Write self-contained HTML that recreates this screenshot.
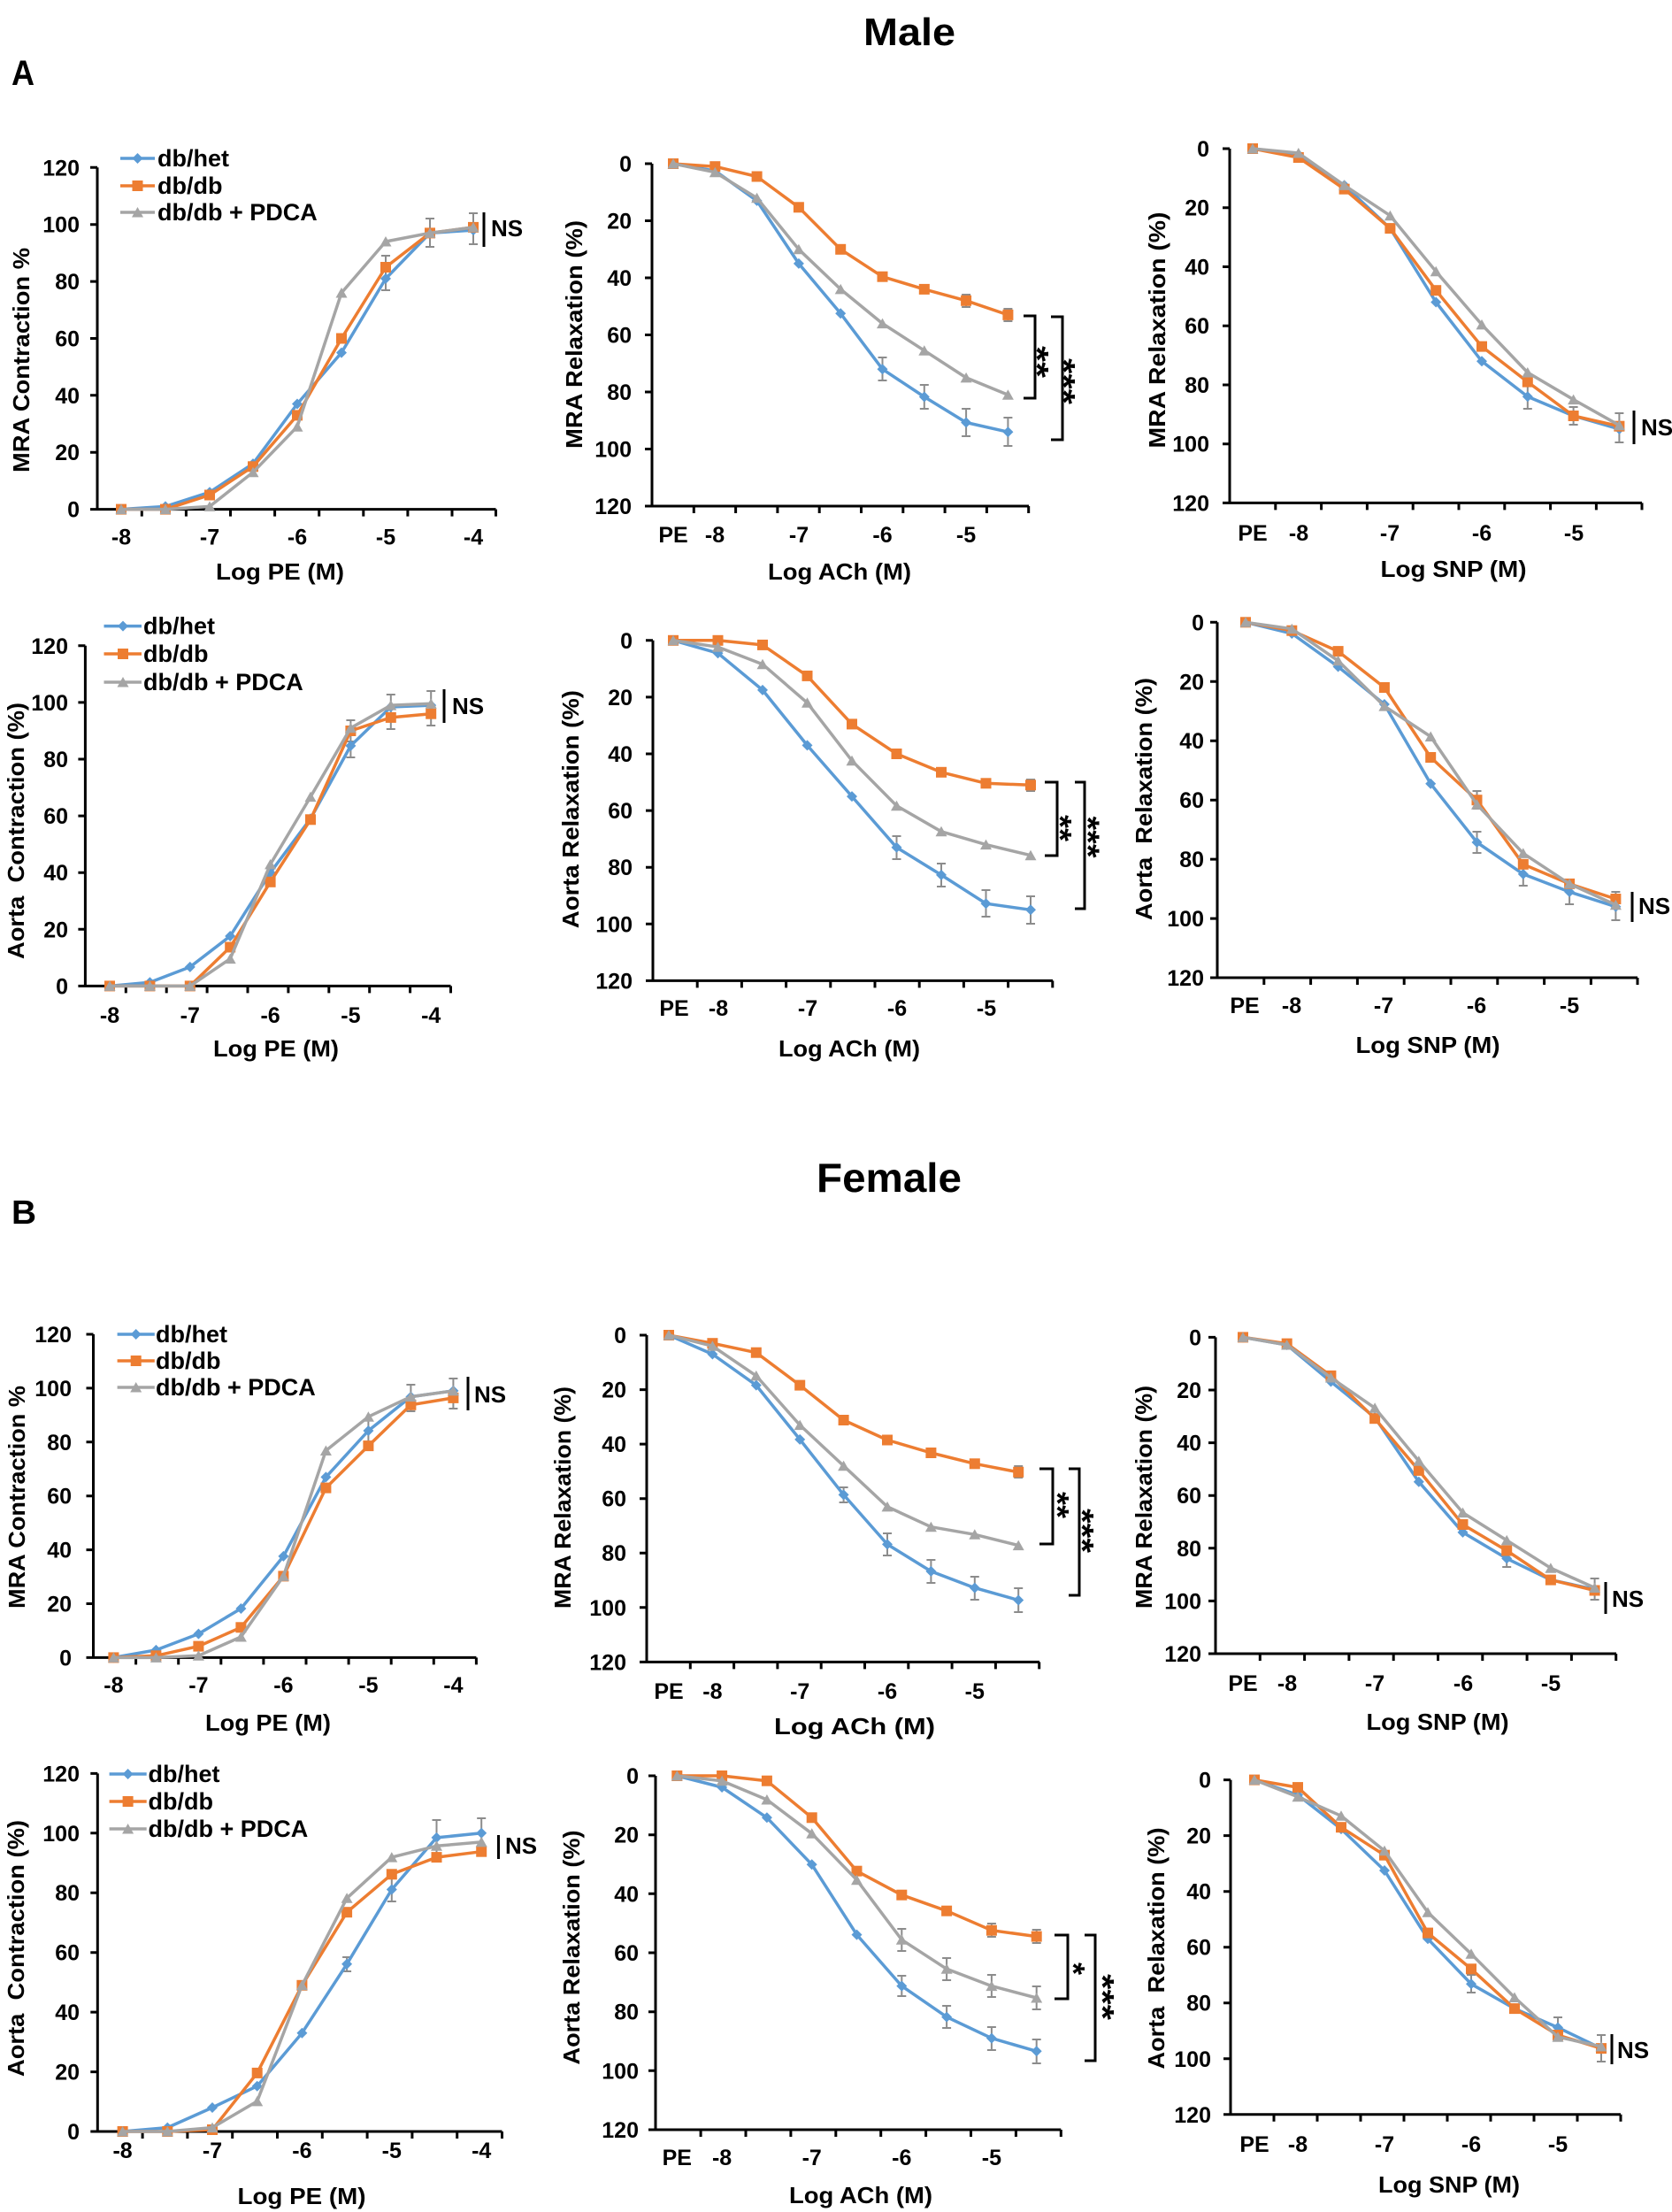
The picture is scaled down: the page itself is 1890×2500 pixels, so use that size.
<!DOCTYPE html>
<html>
<head>
<meta charset="utf-8">
<style>
html,body{margin:0;padding:0;background:#fff;}
svg{display:block;}
text{font-family:"Liberation Sans",Arial,sans-serif;font-weight:bold;fill:#000;}
.ax{stroke:#000;stroke-width:3;fill:none;}
.eb{stroke:#8c8c8c;stroke-width:2;fill:none;}
.sb{stroke:#5b9bd5;stroke-width:3.5;fill:none;stroke-linejoin:round;marker-start:url(#mb);marker-mid:url(#mb);marker-end:url(#mb);}
.so{stroke:#ed7d31;stroke-width:3.5;fill:none;stroke-linejoin:round;marker-start:url(#mo);marker-mid:url(#mo);marker-end:url(#mo);}
.sg{stroke:#a5a5a5;stroke-width:3.5;fill:none;stroke-linejoin:round;marker-start:url(#mg);marker-mid:url(#mg);marker-end:url(#mg);}
.lb{stroke:#5b9bd5;stroke-width:3.5;fill:none;marker-mid:url(#mb);}
.lo{stroke:#ed7d31;stroke-width:3.5;fill:none;marker-mid:url(#mo);}
.lg{stroke:#a5a5a5;stroke-width:3.5;fill:none;marker-mid:url(#mg);}
.tk{font-size:25px;}
.ye{text-anchor:end;}
.xm{text-anchor:middle;}
.tt{font-size:26px;text-anchor:middle;}
.leg{font-size:27px;}
.ns{font-size:26px;}
.st{font-size:36px;text-anchor:middle;}
</style>
</head>
<body>
<svg width="1890" height="2500" viewBox="0 0 1890 2500" xmlns="http://www.w3.org/2000/svg">
<defs>
<marker id="mb" markerUnits="userSpaceOnUse" markerWidth="14" markerHeight="14" refX="7" refY="7" overflow="visible"><path d="M7,1 L13,7 L7,13 L1,7Z" fill="#5b9bd5"/></marker>
<marker id="mo" markerUnits="userSpaceOnUse" markerWidth="14" markerHeight="14" refX="7" refY="7" overflow="visible"><rect x="1" y="1" width="12" height="12" fill="#ed7d31"/></marker>
<marker id="mg" markerUnits="userSpaceOnUse" markerWidth="14" markerHeight="14" refX="7" refY="7" overflow="visible"><path d="M7,1 L13.5,12.5 L0.5,12.5Z" fill="#a5a5a5"/></marker>
</defs>
<rect width="1890" height="2500" fill="#fff"/>

<!-- Titles -->
<text x="976" y="51" font-size="44" textLength="104" lengthAdjust="spacingAndGlyphs">Male</text>
<text x="923" y="1347" font-size="46" textLength="164" lengthAdjust="spacingAndGlyphs">Female</text>
<text x="13" y="96" font-size="40" textLength="26" lengthAdjust="spacingAndGlyphs">A</text>
<text x="13" y="1383" font-size="38" textLength="28" lengthAdjust="spacingAndGlyphs">B</text>

<!-- ================= A1 ================= -->
<path class="ax" d="M110,189.3V575.6 M103,575.6H560.5 M102,575.6H110 M102,511.2H110 M102,446.8H110 M102,382.5H110 M102,318.1H110 M102,253.7H110 M102,189.3H110 M160.3,575.6v8 M210.4,575.6v8 M260.5,575.6v8 M310.6,575.6v8 M360.7,575.6v8 M410.8,575.6v8 M460.9,575.6v8 M511,575.6v8 M560.5,575.6v8"/>
<text class="tk ye"><tspan x="90" y="584.6">0</tspan><tspan x="90" y="520.2">20</tspan><tspan x="90" y="455.8">40</tspan><tspan x="90" y="391.5">60</tspan><tspan x="90" y="327.1">80</tspan><tspan x="90" y="262.7">100</tspan><tspan x="90" y="198.3">120</tspan></text>
<text class="tk xm"><tspan x="137" y="615.5">-8</tspan><tspan x="237" y="615.5">-7</tspan><tspan x="336" y="615.5">-6</tspan><tspan x="436" y="615.5">-5</tspan><tspan x="535" y="615.5">-4</tspan></text>
<text class="tt" x="316.5" y="655" textLength="145" lengthAdjust="spacingAndGlyphs">Log PE (M)</text>
<text class="tt" transform="translate(33,407) rotate(-90)" textLength="254" lengthAdjust="spacingAndGlyphs">MRA Contraction %</text>
<path class="eb" d="M486,247V279M481,247h10M481,279h10 M535,241V276M530,241h10M530,276h10 M436,302V328M431,302h10M431,328h10 M436,289V315M431,289h10M431,315h10"/>
<polyline class="sb" points="137,575.6 187,572.4 237,556.3 286,524.1 336,456.5 386,398.6 436,314.9 486,263.4 535,260.1"/>
<polyline class="so" points="137,575.6 187,575.6 237,559.5 286,527.3 336,469.4 386,382.5 436,302 486,263.4 535,256.9"/>
<polyline class="sg" points="137,575.6 187,575.6 237,572.4 286,533.8 336,482.2 386,331 436,273 486,263.4 535,256.9"/>
<polyline class="lb" points="136,179 155.5,179 175,179"/>
<polyline class="lo" points="136,210 155.5,210 175,210"/>
<polyline class="lg" points="136,240 155.5,240 175,240"/>
<text class="leg"><tspan x="178" y="188">db/het</tspan><tspan x="178" y="219">db/db</tspan><tspan x="178" y="249">db/db + PDCA</tspan></text>
<path class="ax" d="M547,240V279"/>
<text class="ns" x="555" y="267">NS</text>

<!-- ================= A2 ================= -->
<path class="ax" d="M737,185V572 M729,185H737 M729,249.5H737 M729,314H737 M729,378.5H737 M729,443H737 M729,507.5H737 M729,572H737 M729,572H1163 M784.3,572v8 M831.6,572v8 M878.9,572v8 M926.2,572v8 M973.5,572v8 M1020.8,572v8 M1068.1,572v8 M1115.4,572v8 M1162.7,572v8"/>
<text class="tk ye"><tspan x="714" y="194">0</tspan><tspan x="714" y="258.5">20</tspan><tspan x="714" y="323">40</tspan><tspan x="714" y="387.5">60</tspan><tspan x="714" y="452">80</tspan><tspan x="714" y="516.5">100</tspan><tspan x="714" y="581">120</tspan></text>
<text class="tk xm"><tspan x="761" y="613">PE</tspan><tspan x="808" y="613">-8</tspan><tspan x="903" y="613">-7</tspan><tspan x="997.5" y="613">-6</tspan><tspan x="1092" y="613">-5</tspan></text>
<text class="tt" x="949" y="655" textLength="162" lengthAdjust="spacingAndGlyphs">Log ACh (M)</text>
<text class="tt" transform="translate(658,378) rotate(-90)" textLength="258" lengthAdjust="spacingAndGlyphs">MRA Relaxation (%)</text>
<path class="eb" d="M997.5,404V430M992.5,404h10M992.5,430h10 M1044.8,435V462M1039.8,435h10M1039.8,462h10 M1092.1,462V493M1087.1,462h10M1087.1,493h10 M1139.4,472V504M1134.4,472h10M1134.4,504h10 M1092.1,333V347M1087.1,333h10M1087.1,347h10 M1139.4,349V363M1134.4,349h10M1134.4,363h10"/>
<polyline class="sb" points="761,185 808.3,193.1 855.6,226.9 902.9,297.9 950.2,354.3 997.5,417.2 1044.8,448.5 1092.1,477.5 1139.4,488.2"/>
<polyline class="so" points="761,185 808.3,188.2 855.6,199.5 902.9,234.3 950.2,281.8 997.5,312.7 1044.8,326.9 1092.1,339.8 1139.4,355.9"/>
<polyline class="sg" points="761,185 808.3,194.7 855.6,223.7 902.9,281.8 950.2,326.9 997.5,365.6 1044.8,396.2 1092.1,426.9 1139.4,446.2"/>
<path class="ax" d="M1157,357H1170V450H1157 M1188,358H1201V497H1188"/>
<text class="st" transform="translate(1160,409) rotate(90)" textLength="36" lengthAdjust="spacingAndGlyphs">**</text>
<text class="st" transform="translate(1190,431) rotate(90)" textLength="52" lengthAdjust="spacingAndGlyphs">***</text>

<!-- ================= A3 ================= -->
<path class="ax" d="M1390,168V568.4 M1382,168H1390 M1382,234.7H1390 M1382,301.5H1390 M1382,368.2H1390 M1382,435H1390 M1382,501.7H1390 M1382,568.4H1856 M1441.8,568.4v8 M1493.6,568.4v8 M1545.4,568.4v8 M1597.2,568.4v8 M1649,568.4v8 M1700.8,568.4v8 M1752.6,568.4v8 M1804.4,568.4v8 M1856,568.4v8"/>
<text class="tk ye"><tspan x="1367" y="177">0</tspan><tspan x="1367" y="243.7">20</tspan><tspan x="1367" y="310.5">40</tspan><tspan x="1367" y="377.2">60</tspan><tspan x="1367" y="444">80</tspan><tspan x="1367" y="510.7">100</tspan><tspan x="1367" y="577.4">120</tspan></text>
<text class="tk xm"><tspan x="1416" y="611">PE</tspan><tspan x="1468" y="611">-8</tspan><tspan x="1571" y="611">-7</tspan><tspan x="1675" y="611">-6</tspan><tspan x="1779" y="611">-5</tspan></text>
<text class="tt" x="1643" y="652" textLength="165" lengthAdjust="spacingAndGlyphs">Log SNP (M)</text>
<text class="tt" transform="translate(1317,373) rotate(-90)" textLength="267" lengthAdjust="spacingAndGlyphs">MRA Relaxation (%)</text>
<path class="eb" d="M1726.8,435V462M1721.8,435h10M1721.8,462h10 M1778.6,460V480M1773.6,460h10M1773.6,480h10 M1830.4,467V500M1825.4,467h10M1825.4,500h10"/>
<polyline class="sb" points="1416,168 1467.8,174.7 1519.6,209.4 1571.4,258.1 1623.2,341.5 1675,408.3 1726.8,448.3 1778.6,470 1830.4,485"/>
<polyline class="so" points="1416,168 1467.8,178 1519.6,213.7 1571.4,258.1 1623.2,328.2 1675,391.6 1726.8,431.6 1778.6,470 1830.4,481.7"/>
<polyline class="sg" points="1416,168 1467.8,173 1519.6,209.4 1571.4,243.7 1623.2,306.8 1675,366.9 1726.8,421 1778.6,451.6 1830.4,480.7"/>
<path class="ax" d="M1847,464V502"/>
<text class="ns" x="1855" y="492" font-size="23">NS</text>

<!-- ================= A4 ================= -->
<path class="ax" d="M96.4,729.8V1114.4 M88.4,1114.4H96.4 M88.4,1050.3H96.4 M88.4,986.2H96.4 M88.4,922.1H96.4 M88.4,858H96.4 M88.4,793.9H96.4 M88.4,729.8H96.4 M89,1114.4H509.5 M142.3,1114.4v8 M188.2,1114.4v8 M234.1,1114.4v8 M280,1114.4v8 M325.9,1114.4v8 M371.8,1114.4v8 M417.7,1114.4v8 M463.6,1114.4v8 M509.5,1114.4v8"/>
<text class="tk ye"><tspan x="77" y="1123.4">0</tspan><tspan x="77" y="1059.3">20</tspan><tspan x="77" y="995.2">40</tspan><tspan x="77" y="931.1">60</tspan><tspan x="77" y="867">80</tspan><tspan x="77" y="802.9">100</tspan><tspan x="77" y="738.8">120</tspan></text>
<text class="tk xm"><tspan x="124" y="1156">-8</tspan><tspan x="214.8" y="1156">-7</tspan><tspan x="305.6" y="1156">-6</tspan><tspan x="396.4" y="1156">-5</tspan><tspan x="487.2" y="1156">-4</tspan></text>
<text class="tt" x="312" y="1194" textLength="142" lengthAdjust="spacingAndGlyphs">Log PE (M)</text>
<text class="tt" transform="translate(27,939) rotate(-90)" textLength="290" lengthAdjust="spacingAndGlyphs" xml:space="preserve">Aorta  Contraction (%)</text>
<path class="eb" d="M396.4,830V856M391.4,830h10M391.4,856h10 M396.4,814V838M391.4,814h10M391.4,838h10 M441.8,785V824M436.8,785h10M436.8,824h10 M487.2,781V820M482.2,781h10M482.2,820h10"/>
<polyline class="sb" points="124,1114.4 169.4,1110.2 214.8,1092.9 260.2,1058 305.6,986.2 351,925.3 396.4,842.9 441.8,799 487.2,797.1"/>
<polyline class="so" points="124,1114.4 169.4,1114.4 214.8,1114.4 260.2,1070.5 305.6,996.8 351,926.3 396.4,826 441.8,810.9 487.2,806.7"/>
<polyline class="sg" points="124,1114.4 169.4,1114.4 214.8,1114.4 260.2,1083.6 305.6,976.9 351,900.6 396.4,822.8 441.8,797.1 487.2,795.2"/>
<polyline class="lb" points="117.5,707.6 139,707.6 160,707.6"/>
<polyline class="lo" points="117.5,739 139,739 160,739"/>
<polyline class="lg" points="117.5,771 139,771 160,771"/>
<text class="leg"><tspan x="162" y="716.6">db/het</tspan><tspan x="162" y="748">db/db</tspan><tspan x="162" y="780">db/db + PDCA</tspan></text>
<path class="ax" d="M502,779V817"/>
<text class="ns" x="511" y="807">NS</text>

<!-- ================= A5 ================= -->
<path class="ax" d="M738,723.8V1108.4 M730,723.8H738 M730,787.9H738 M730,852H738 M730,916.1H738 M730,980.2H738 M730,1044.3H738 M730,1108.4H1190 M788.2,1108.4v8 M838.4,1108.4v8 M888.6,1108.4v8 M938.8,1108.4v8 M989,1108.4v8 M1039.2,1108.4v8 M1089.4,1108.4v8 M1139.6,1108.4v8 M1189.8,1108.4v8"/>
<text class="tk ye"><tspan x="715" y="732.8">0</tspan><tspan x="715" y="796.9">20</tspan><tspan x="715" y="861">40</tspan><tspan x="715" y="925.1">60</tspan><tspan x="715" y="989.2">80</tspan><tspan x="715" y="1053.3">100</tspan><tspan x="715" y="1117.4">120</tspan></text>
<text class="tk xm"><tspan x="762" y="1148">PE</tspan><tspan x="812" y="1148">-8</tspan><tspan x="913" y="1148">-7</tspan><tspan x="1014" y="1148">-6</tspan><tspan x="1115" y="1148">-5</tspan></text>
<text class="tt" x="960" y="1194" textLength="160" lengthAdjust="spacingAndGlyphs">Log ACh (M)</text>
<text class="tt" transform="translate(654,914.6) rotate(-90)" textLength="269" lengthAdjust="spacingAndGlyphs">Aorta Relaxation (%)</text>
<path class="eb" d="M1013.5,945V971M1008.5,945h10M1008.5,971h10 M1064,976V1002M1059,976h10M1059,1002h10 M1114.5,1006V1036M1109.5,1006h10M1109.5,1036h10 M1165,1013V1044M1160,1013h10M1160,1044h10 M1165,881V894M1160,881h10M1160,894h10"/>
<polyline class="sb" points="761,723.8 811.5,738.2 862,779.9 912.5,842.4 963,900.1 1013.5,957.8 1064,988.9 1114.5,1021.2 1165,1028.3"/>
<polyline class="so" points="761,723.8 811.5,723.8 862,728.9 912.5,763.9 963,818.4 1013.5,852 1064,872.8 1114.5,885.3 1165,887.3"/>
<polyline class="sg" points="761,723.8 811.5,731.2 862,750.7 912.5,794.3 963,859.7 1013.5,910.7 1064,939.8 1114.5,954.6 1165,966.7"/>
<path class="ax" d="M1181,884H1195V967H1181 M1215,884H1226V1027H1215"/>
<text class="st" transform="translate(1186,936) rotate(90)" textLength="30" lengthAdjust="spacingAndGlyphs">**</text>
<text class="st" transform="translate(1217.5,946) rotate(90)" textLength="47" lengthAdjust="spacingAndGlyphs">***</text>

<!-- ================= A6 ================= -->
<path class="ax" d="M1376,703.3V1105 M1368,703.3H1376 M1368,770.3H1376 M1368,837.2H1376 M1368,904.2H1376 M1368,971.1H1376 M1368,1038.1H1376 M1368,1105H1851 M1428.8,1105v8 M1481.6,1105v8 M1534.4,1105v8 M1587.2,1105v8 M1640,1105v8 M1692.8,1105v8 M1745.6,1105v8 M1798.4,1105v8 M1851,1105v8"/>
<text class="tk ye"><tspan x="1361" y="712.3">0</tspan><tspan x="1361" y="779.3">20</tspan><tspan x="1361" y="846.2">40</tspan><tspan x="1361" y="913.2">60</tspan><tspan x="1361" y="980.1">80</tspan><tspan x="1361" y="1047.1">100</tspan><tspan x="1361" y="1114">120</tspan></text>
<text class="tk xm"><tspan x="1407" y="1145">PE</tspan><tspan x="1460" y="1145">-8</tspan><tspan x="1564" y="1145">-7</tspan><tspan x="1669" y="1145">-6</tspan><tspan x="1774" y="1145">-5</tspan></text>
<text class="tt" x="1614" y="1190" textLength="163" lengthAdjust="spacingAndGlyphs">Log SNP (M)</text>
<text class="tt" transform="translate(1302,903) rotate(-90)" textLength="274" lengthAdjust="spacingAndGlyphs" xml:space="preserve">Aorta  Relaxation (%)</text>
<path class="eb" d="M1669.5,940V964M1664.5,940h10M1664.5,964h10 M1721.8,975V1001M1716.8,975h10M1716.8,1001h10 M1774.1,994V1022M1769.1,994h10M1769.1,1022h10 M1826.4,1008V1040M1821.4,1008h10M1821.4,1040h10 M1669.5,894V914M1664.5,894h10M1664.5,914h10"/>
<polyline class="sb" points="1408,703.3 1460.3,716 1512.6,753.5 1564.9,796 1617.2,885.8 1669.5,952 1721.8,987.9 1774.1,1008 1826.4,1024.7"/>
<polyline class="so" points="1408,703.3 1460.3,712.7 1512.6,736.1 1564.9,777 1617.2,856 1669.5,904.2 1721.8,976.8 1774.1,998.9 1826.4,1016"/>
<polyline class="sg" points="1408,703.3 1460.3,710.7 1512.6,746.8 1564.9,798.1 1617.2,832.5 1669.5,909.2 1721.8,964.4 1774.1,998.9 1826.4,1022.7"/>
<path class="ax" d="M1845,1008V1042"/>
<text class="ns" x="1852" y="1033" font-size="23">NS</text>

<!-- ================= B1 ================= -->
<path class="ax" d="M105.5,1508V1873.4 M97.5,1873.4H105.5 M97.5,1812.5H105.5 M97.5,1751.6H105.5 M97.5,1690.7H105.5 M97.5,1629.8H105.5 M97.5,1568.9H105.5 M97.5,1508H105.5 M98,1873.4H538.4 M153.6,1873.4v8 M201.7,1873.4v8 M249.8,1873.4v8 M297.9,1873.4v8 M346,1873.4v8 M394.1,1873.4v8 M442.2,1873.4v8 M490.3,1873.4v8 M538.4,1873.4v8"/>
<text class="tk ye"><tspan x="81" y="1882.4">0</tspan><tspan x="81" y="1821.5">20</tspan><tspan x="81" y="1760.6">40</tspan><tspan x="81" y="1699.7">60</tspan><tspan x="81" y="1638.8">80</tspan><tspan x="81" y="1577.9">100</tspan><tspan x="81" y="1517">120</tspan></text>
<text class="tk xm"><tspan x="128.4" y="1913">-8</tspan><tspan x="224.4" y="1913">-7</tspan><tspan x="320.4" y="1913">-6</tspan><tspan x="416.4" y="1913">-5</tspan><tspan x="512.4" y="1913">-4</tspan></text>
<text class="tt" x="303" y="1956" textLength="142" lengthAdjust="spacingAndGlyphs">Log PE (M)</text>
<text class="tt" transform="translate(28,1692) rotate(-90)" textLength="252" lengthAdjust="spacingAndGlyphs">MRA Contraction %</text>
<path class="eb" d="M464.4,1565V1595M459.4,1565h10M459.4,1595h10 M512.4,1558V1592M507.4,1558h10M507.4,1592h10 M416.4,1605V1630M411.4,1605h10M411.4,1630h10"/>
<polyline class="sb" points="128.4,1873.4 176.4,1864.9 224.4,1846.6 272.4,1818 320.4,1758.9 368.4,1669.4 416.4,1617 464.4,1578.6 512.4,1571.9"/>
<polyline class="so" points="128.4,1873.4 176.4,1871.3 224.4,1860.6 272.4,1839.3 320.4,1781.4 368.4,1681.6 416.4,1634.1 464.4,1587.8 512.4,1579.9"/>
<polyline class="sg" points="128.4,1873.4 176.4,1873.4 224.4,1871.3 272.4,1850 320.4,1781.4 368.4,1639.5 416.4,1601.2 464.4,1578.6 512.4,1571.9"/>
<polyline class="lb" points="132.6,1508 153.7,1508 174.8,1508"/>
<polyline class="lo" points="132.6,1538 153.7,1538 174.8,1538"/>
<polyline class="lg" points="132.6,1568 153.7,1568 174.8,1568"/>
<text class="leg"><tspan x="176" y="1517">db/het</tspan><tspan x="176" y="1547">db/db</tspan><tspan x="176" y="1577">db/db + PDCA</tspan></text>
<path class="ax" d="M529,1556V1594"/>
<text class="ns" x="536" y="1585" font-size="23">NS</text>

<!-- ================= B2 ================= -->
<path class="ax" d="M731,1509V1878.4 M723,1509H731 M723,1570.6H731 M723,1632.1H731 M723,1693.7H731 M723,1755.2H731 M723,1816.8H731 M723,1878.4H1175 M780.3,1878.4v8 M829.6,1878.4v8 M878.9,1878.4v8 M928.2,1878.4v8 M977.5,1878.4v8 M1026.8,1878.4v8 M1076.1,1878.4v8 M1125.4,1878.4v8 M1174.7,1878.4v8"/>
<text class="tk ye"><tspan x="708" y="1518">0</tspan><tspan x="708" y="1579.6">20</tspan><tspan x="708" y="1641.1">40</tspan><tspan x="708" y="1702.7">60</tspan><tspan x="708" y="1764.2">80</tspan><tspan x="708" y="1825.8">100</tspan><tspan x="708" y="1887.4">120</tspan></text>
<text class="tk xm"><tspan x="756" y="1920">PE</tspan><tspan x="805.4" y="1920">-8</tspan><tspan x="904.2" y="1920">-7</tspan><tspan x="1003" y="1920">-6</tspan><tspan x="1101.8" y="1920">-5</tspan></text>
<text class="tt" x="966" y="1960" font-size="30" textLength="182" lengthAdjust="spacingAndGlyphs">Log ACh (M)</text>
<text class="tt" transform="translate(645,1692.5) rotate(-90)" textLength="251" lengthAdjust="spacingAndGlyphs">MRA Relaxation (%)</text>
<path class="eb" d="M953.6,1681V1698M948.6,1681h10M948.6,1698h10 M1003,1733V1758M998,1733h10M998,1758h10 M1052.4,1763V1789M1047.4,1763h10M1047.4,1789h10 M1101.8,1782V1808M1096.8,1782h10M1096.8,1808h10 M1151.2,1795V1822M1146.2,1795h10M1146.2,1822h10 M1151.2,1657V1670M1146.2,1657h10M1146.2,1670h10"/>
<polyline class="sb" points="756,1509 805.4,1530.5 854.8,1565.6 904.2,1626.9 953.6,1689.4 1003,1745.4 1052.4,1775.9 1101.8,1794.6 1151.2,1808.5"/>
<polyline class="so" points="756,1509 805.4,1518.2 854.8,1528.7 904.2,1565.6 953.6,1605 1003,1627.5 1052.4,1642 1101.8,1654.3 1151.2,1663.8"/>
<polyline class="sg" points="756,1509 805.4,1521.3 854.8,1554.9 904.2,1610.6 953.6,1656.7 1003,1702.9 1052.4,1725.7 1101.8,1734.3 1151.2,1746.6"/>
<path class="ax" d="M1175,1660H1190V1745H1175 M1208,1660H1220V1803H1208"/>
<text class="st" transform="translate(1183,1701) rotate(90)" textLength="30" lengthAdjust="spacingAndGlyphs">**</text>
<text class="st" transform="translate(1211,1730) rotate(90)" textLength="50" lengthAdjust="spacingAndGlyphs">***</text>

<!-- ================= B3 ================= -->
<path class="ax" d="M1374,1511.4V1869 M1366,1511.4H1374 M1366,1571H1374 M1366,1630.6H1374 M1366,1690.2H1374 M1366,1749.8H1374 M1366,1809.4H1374 M1366,1869H1827 M1424.3,1869v8 M1474.6,1869v8 M1524.9,1869v8 M1575.2,1869v8 M1625.5,1869v8 M1675.8,1869v8 M1726.1,1869v8 M1776.4,1869v8 M1826.7,1869v8"/>
<text class="tk ye"><tspan x="1358" y="1520.4">0</tspan><tspan x="1358" y="1580">20</tspan><tspan x="1358" y="1639.6">40</tspan><tspan x="1358" y="1699.2">60</tspan><tspan x="1358" y="1758.8">80</tspan><tspan x="1358" y="1818.4">100</tspan><tspan x="1358" y="1878">120</tspan></text>
<text class="tk xm"><tspan x="1405" y="1911">PE</tspan><tspan x="1455" y="1911">-8</tspan><tspan x="1554" y="1911">-7</tspan><tspan x="1654" y="1911">-6</tspan><tspan x="1753" y="1911">-5</tspan></text>
<text class="tt" x="1625" y="1955" textLength="161" lengthAdjust="spacingAndGlyphs">Log SNP (M)</text>
<text class="tt" transform="translate(1302,1692) rotate(-90)" textLength="252" lengthAdjust="spacingAndGlyphs">MRA Relaxation (%)</text>
<path class="eb" d="M1703.2,1752V1771M1698.2,1752h10M1698.2,1771h10 M1802.6,1784V1808M1797.6,1784h10M1797.6,1808h10"/>
<polyline class="sb" points="1405,1511.4 1454.7,1520 1504.4,1561.5 1554.1,1602 1603.8,1674.7 1653.5,1731.9 1703.2,1761.4 1752.9,1785.6 1802.6,1796.3"/>
<polyline class="so" points="1405,1511.4 1454.7,1518.6 1504.4,1554.9 1554.1,1603.2 1603.8,1661.9 1653.5,1723 1703.2,1752.5 1752.9,1785.6 1802.6,1797.5"/>
<polyline class="sg" points="1405,1511.4 1454.7,1520 1504.4,1557 1554.1,1591.3 1603.8,1651.2 1653.5,1709.6 1703.2,1740.9 1752.9,1772.2 1802.6,1794.5"/>
<path class="ax" d="M1815,1788V1824"/>
<text class="ns" x="1822" y="1816" font-size="23">NS</text>

<!-- ================= B4 ================= -->
<path class="ax" d="M110.3,2004.4V2409 M102.3,2409H110.3 M102.3,2341.6H110.3 M102.3,2274.1H110.3 M102.3,2206.7H110.3 M102.3,2139.2H110.3 M102.3,2071.8H110.3 M102.3,2004.4H110.3 M103,2409H567.5 M161.1,2409v8 M211.9,2409v8 M262.7,2409v8 M313.5,2409v8 M364.3,2409v8 M415.1,2409v8 M465.9,2409v8 M516.7,2409v8 M567.5,2409v8"/>
<text class="tk ye"><tspan x="90" y="2418">0</tspan><tspan x="90" y="2350.6">20</tspan><tspan x="90" y="2283.1">40</tspan><tspan x="90" y="2215.7">60</tspan><tspan x="90" y="2148.2">80</tspan><tspan x="90" y="2080.8">100</tspan><tspan x="90" y="2013.4">120</tspan></text>
<text class="tk xm"><tspan x="138.6" y="2439">-8</tspan><tspan x="240" y="2439">-7</tspan><tspan x="341.4" y="2439">-6</tspan><tspan x="442.8" y="2439">-5</tspan><tspan x="544.2" y="2439">-4</tspan></text>
<text class="tt" x="341" y="2491" textLength="145" lengthAdjust="spacingAndGlyphs">Log PE (M)</text>
<text class="tt" transform="translate(27,2202) rotate(-90)" textLength="290" lengthAdjust="spacingAndGlyphs" xml:space="preserve">Aorta  Contraction (%)</text>
<path class="eb" d="M392.1,2212V2228M387.1,2212h10M387.1,2228h10 M442.8,2122V2149M437.8,2122h10M437.8,2149h10 M493.5,2057V2097M488.5,2057h10M488.5,2097h10 M544.2,2055V2089M539.2,2055h10M539.2,2089h10"/>
<polyline class="sb" points="138.6,2409 189.3,2404.6 240,2382 290.7,2357.7 341.4,2297.7 392.1,2219.8 442.8,2135.5 493.5,2076.9 544.2,2071.8"/>
<polyline class="so" points="138.6,2409 189.3,2409 240,2407 290.7,2342.9 341.4,2243.8 392.1,2161.2 442.8,2118.3 493.5,2099.1 544.2,2092.7"/>
<polyline class="sg" points="138.6,2409 189.3,2409 240,2404.6 290.7,2374.9 341.4,2243.8 392.1,2145.3 442.8,2099.1 493.5,2086.3 544.2,2081.9"/>
<polyline class="lb" points="123.6,2005 144.6,2005 165.7,2005"/>
<polyline class="lo" points="123.6,2036 144.6,2036 165.7,2036"/>
<polyline class="lg" points="123.6,2067 144.6,2067 165.7,2067"/>
<text class="leg"><tspan x="167.5" y="2014">db/het</tspan><tspan x="167.5" y="2045">db/db</tspan><tspan x="167.5" y="2076">db/db + PDCA</tspan></text>
<path class="ax" d="M563.5,2074V2101"/>
<text class="ns" x="571" y="2095">NS</text>

<!-- ================= B5 ================= -->
<path class="ax" d="M741,2007V2407 M733,2007H741 M733,2073.7H741 M733,2140.3H741 M733,2207H741 M733,2273.7H741 M733,2340.3H741 M733,2407H1199.3 M792.1,2407v8 M843,2407v8 M893.9,2407v8 M944.8,2407v8 M995.7,2407v8 M1046.6,2407v8 M1097.5,2407v8 M1148.4,2407v8 M1199.3,2407v8"/>
<text class="tk ye"><tspan x="722" y="2016">0</tspan><tspan x="722" y="2082.7">20</tspan><tspan x="722" y="2149.3">40</tspan><tspan x="722" y="2216">60</tspan><tspan x="722" y="2282.7">80</tspan><tspan x="722" y="2349.3">100</tspan><tspan x="722" y="2416">120</tspan></text>
<text class="tk xm"><tspan x="765.3" y="2447">PE</tspan><tspan x="816.1" y="2447">-8</tspan><tspan x="917.7" y="2447">-7</tspan><tspan x="1019.3" y="2447">-6</tspan><tspan x="1120.9" y="2447">-5</tspan></text>
<text class="tt" x="973" y="2490" textLength="162" lengthAdjust="spacingAndGlyphs">Log ACh (M)</text>
<text class="tt" transform="translate(655,2201) rotate(-90)" textLength="265" lengthAdjust="spacingAndGlyphs">Aorta Relaxation (%)</text>
<path class="eb" d="M1019.3,2233V2256M1014.3,2233h10M1014.3,2256h10 M1070.1,2267V2292M1065.1,2267h10M1065.1,2292h10 M1120.9,2291V2317M1115.9,2291h10M1115.9,2317h10 M1171.7,2305V2332M1166.7,2305h10M1166.7,2332h10 M1019.3,2180V2205M1014.3,2180h10M1014.3,2205h10 M1070.1,2213V2238M1065.1,2213h10M1065.1,2238h10 M1120.9,2232V2257M1115.9,2232h10M1115.9,2257h10 M1171.7,2245V2271M1166.7,2245h10M1166.7,2271h10 M1120.9,2174V2189M1115.9,2174h10M1115.9,2189h10 M1171.7,2181V2196M1166.7,2181h10M1166.7,2196h10"/>
<polyline class="sb" points="765.3,2007 816.1,2020 866.9,2054.3 917.7,2107.3 968.5,2186.6 1019.3,2244.6 1070.1,2279.6 1120.9,2303.6 1171.7,2318.3"/>
<polyline class="so" points="765.3,2007 816.1,2007 866.9,2012.7 917.7,2054.3 968.5,2114.7 1019.3,2141.7 1070.1,2159.7 1120.9,2181.7 1171.7,2188.6"/>
<polyline class="sg" points="765.3,2007 816.1,2012.7 866.9,2034 917.7,2072.3 968.5,2124.7 1019.3,2192.3 1070.1,2225.3 1120.9,2244.6 1171.7,2258"/>
<path class="ax" d="M1192,2187H1207V2259H1192 M1226,2187H1238V2329H1226"/>
<text class="st" transform="translate(1201,2225) rotate(90)">*</text>
<text class="st" transform="translate(1234,2257) rotate(90)" textLength="52" lengthAdjust="spacingAndGlyphs">***</text>

<!-- ================= B6 ================= -->
<path class="ax" d="M1391,2011.6V2389.8 M1383,2011.6H1391 M1383,2074.6H1391 M1383,2137.7H1391 M1383,2200.7H1391 M1383,2263.7H1391 M1383,2326.8H1391 M1383,2389.8H1832 M1440,2389.8v8 M1489,2389.8v8 M1538,2389.8v8 M1587,2389.8v8 M1636,2389.8v8 M1685,2389.8v8 M1734,2389.8v8 M1783,2389.8v8 M1832,2389.8v8"/>
<text class="tk ye"><tspan x="1369" y="2020.6">0</tspan><tspan x="1369" y="2083.6">20</tspan><tspan x="1369" y="2146.7">40</tspan><tspan x="1369" y="2209.7">60</tspan><tspan x="1369" y="2272.7">80</tspan><tspan x="1369" y="2335.8">100</tspan><tspan x="1369" y="2398.8">120</tspan></text>
<text class="tk xm"><tspan x="1418" y="2432">PE</tspan><tspan x="1467" y="2432">-8</tspan><tspan x="1565" y="2432">-7</tspan><tspan x="1663" y="2432">-6</tspan><tspan x="1761" y="2432">-5</tspan></text>
<text class="tt" x="1638" y="2478" textLength="160" lengthAdjust="spacingAndGlyphs">Log SNP (M)</text>
<text class="tt" transform="translate(1316,2202) rotate(-90)" textLength="273" lengthAdjust="spacingAndGlyphs" xml:space="preserve">Aorta  Relaxation (%)</text>
<path class="eb" d="M1663,2232V2252M1658,2232h10M1658,2252h10 M1761,2280V2303M1756,2280h10M1756,2303h10 M1810,2300V2330M1805,2300h10M1805,2330h10"/>
<polyline class="sb" points="1418,2011.6 1467,2028.6 1516,2067.1 1565,2114 1614,2191.3 1663,2242.3 1712,2270.1 1761,2291.5 1810,2315.1"/>
<polyline class="so" points="1418,2011.6 1467,2020.1 1516,2065.2 1565,2096.7 1614,2184.6 1663,2225.3 1712,2270.1 1761,2300 1810,2315.1"/>
<polyline class="sg" points="1418,2011.6 1467,2030.8 1516,2052.3 1565,2091.7 1614,2161.3 1663,2208.3 1712,2257.5 1761,2302.2 1810,2312.9"/>
<path class="ax" d="M1822,2299V2333"/>
<text class="ns" x="1828" y="2326">NS</text>
</svg>
</body>
</html>
